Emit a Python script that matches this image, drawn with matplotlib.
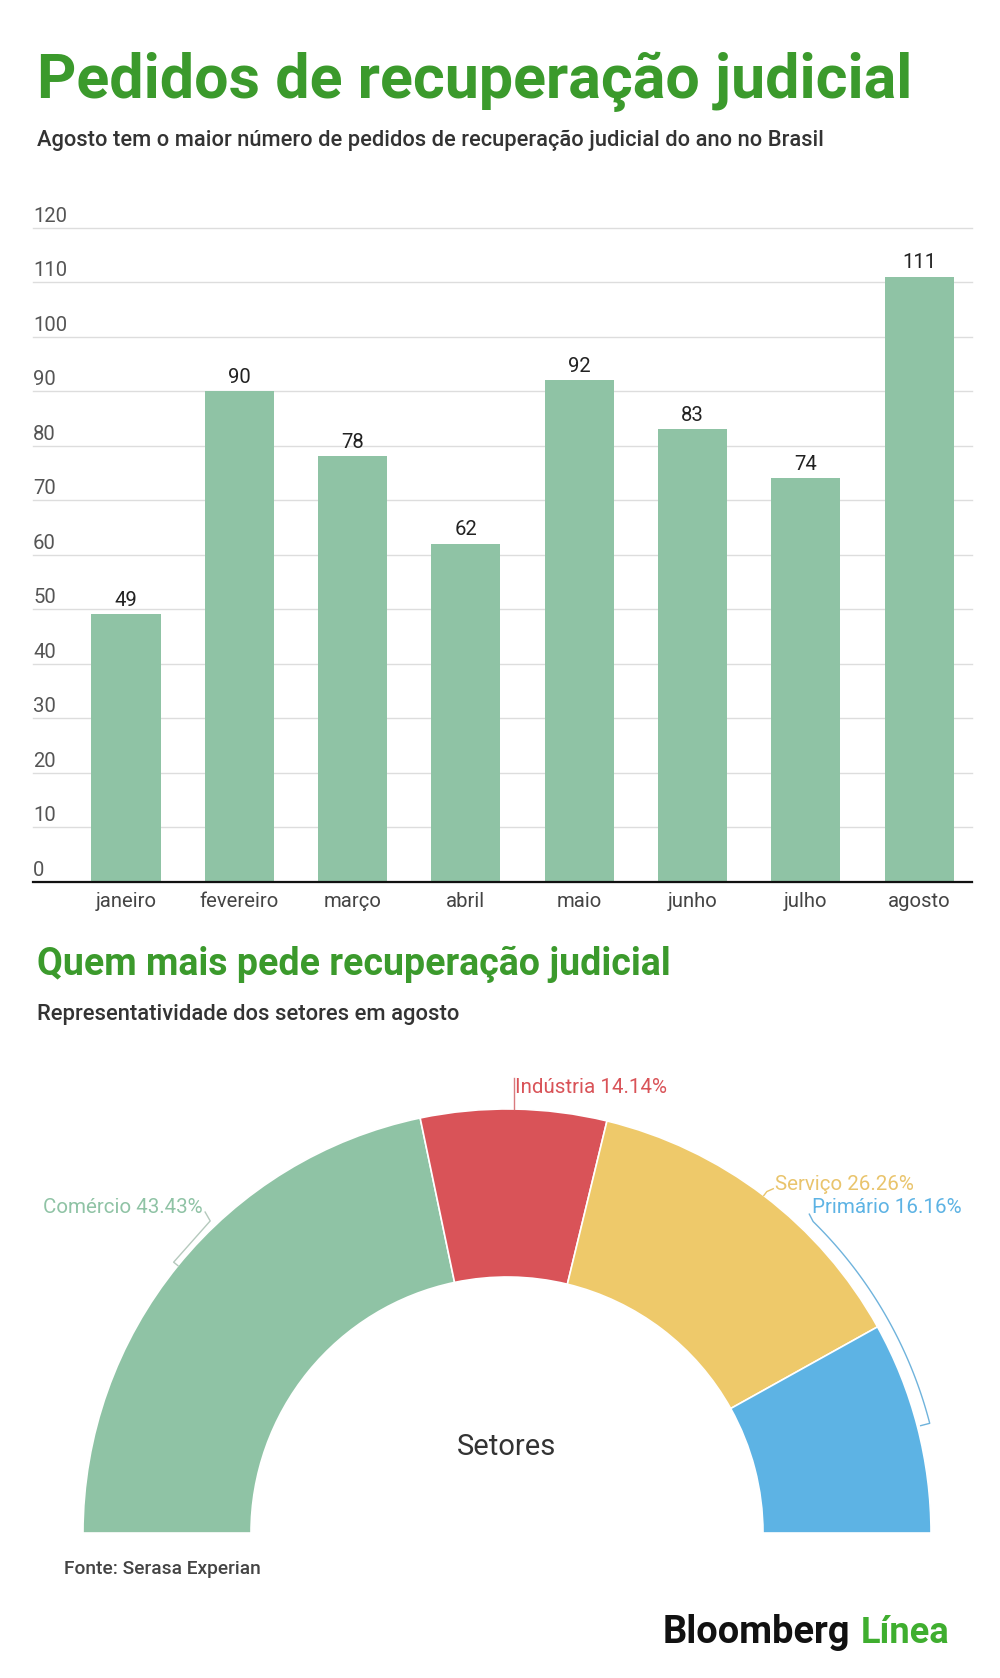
import numpy as np
import matplotlib
matplotlib.use("Agg")
import matplotlib.pyplot as plt

plt.rcParams['font.family'] = ['Roboto', 'DejaVu Sans']

# ---------------- data ----------------
months = ["janeiro", "fevereiro", "março", "abril", "maio", "junho", "julho", "agosto"]
pedidos = [49, 90, 78, 62, 92, 83, 74, 111]
y_ticks = [0, 10, 20, 30, 40, 50, 60, 70, 80, 90, 100, 110, 120]

setores = ["Comércio", "Indústria", "Serviço", "Primário"]
setores_pct = [43.43, 14.14, 26.26, 16.16]

title1 = "Pedidos de recuperação judicial"
subtitle1 = "Agosto tem o maior número de pedidos de recuperação judicial do ano no Brasil"
title2 = "Quem mais pede recuperação judicial"
subtitle2 = "Representatividade dos setores em agosto"
center_label = "Setores"
fonte = "Fonte: Serasa Experian"

# ---------------- style ----------------
W, H = 1000, 1678
GREEN_T = "#3b9a2c"
BAR = "#8fc3a5"
PIE_COLORS = ["#8fc3a5", "#d95358", "#eec96a", "#5db3e4"]
LABEL_COLORS = ["#8fc3a5", "#d95358", "#e9c46c", "#5db3e4"]
LEADER_COLORS = ["#b5c9bd", "#d97a7e", "#e9c46c", "#6fb3dc"]
TICK_FS = 14.6
PIE_FS = 14.8

fig = plt.figure(figsize=(W / 100, H / 100), dpi=100)
fig.patch.set_facecolor("white")
renderer = fig.canvas.get_renderer()


def fx(x):
    return x / W


def fy(y):
    return 1 - y / H


def ftext(x, y, s, target_w=None, **kw):
    t = fig.text(fx(x), fy(y), s, va="baseline", **kw)
    if target_w is not None:
        w = t.get_window_extent(renderer).width
        t.set_fontsize(t.get_fontsize() * target_w / w)
    return t


# titles
ftext(37, 98, title1, target_w=876, fontsize=48, weight="bold", color=GREEN_T)
ftext(37, 146, subtitle1, target_w=787, fontsize=14, weight="medium", color="#333333")
ftext(37, 975, title2, target_w=633, fontsize=28, weight="bold", color=GREEN_T)
ftext(37, 1020, subtitle2, target_w=422, fontsize=14, weight="medium", color="#333333")
ftext(64, 1574, fonte, target_w=196, fontsize=12, weight="medium", color="#444444")
ftext(663, 1643, "Bloomberg", target_w=188, fontsize=26, weight="bold", color="#111111")
ftext(861, 1643, "Línea", target_w=89, fontsize=26, weight="bold", color="#3fae2f")

# ---------------- bar chart ----------------
ax_l, ax_r, ax_t, ax_b = 33, 972, 227.5, 881.5
ax = fig.add_axes([fx(ax_l), fy(ax_b), (ax_r - ax_l) / W, (ax_b - ax_t) / H])
x = np.arange(len(months))
ax.bar(x, pedidos, width=0.61, color=BAR, zorder=2)
ax.set_xlim(-0.821, 7.467)
ax.set_ylim(0, 120)
ax.set_yticks(y_ticks)
ax.set_yticklabels([])
ax.tick_params(axis="both", length=0)
ax.set_xticks([])
ax.yaxis.grid(True, color="#dddddd", linewidth=1.0, zorder=0)
for gl in ax.get_ygridlines():
    gl.set_clip_on(False)
for s in ["top", "right", "left"]:
    ax.spines[s].set_visible(False)
ax.spines["bottom"].set_color("#111111")
ax.spines["bottom"].set_linewidth(1.6)
ax.spines["bottom"].set_zorder(3)

for v in y_ticks:
    ax.annotate(str(v), xy=(-0.821, v), xytext=(0, 4.3), textcoords="offset points",
                ha="left", va="baseline", fontsize=TICK_FS, color="#555555")
for i, (m, v) in enumerate(zip(months, pedidos)):
    ax.annotate(str(v), xy=(i, v), xytext=(0, 6.1), textcoords="offset points",
                ha="center", va="baseline", fontsize=TICK_FS, color="#222222")
    ax.annotate(m, xy=(i, 0), xytext=(0, -18.6), textcoords="offset points",
                ha="center", va="baseline", fontsize=TICK_FS, color="#444444")

# ---------------- semi donut ----------------
cx, cy, R = 507, 1533, 424
lim = 1.2
side = 2 * lim * R
pax = fig.add_axes([fx(cx - side / 2), fy(cy + side / 2), side / W, side / H])
vals = list(setores_pct) + [sum(setores_pct)]
cols = PIE_COLORS + ["none"]
wedges, _ = pax.pie(vals, colors=cols, startangle=180, counterclock=False,
                    radius=1.0, wedgeprops=dict(width=1 - 256 / 424, edgecolor="white", linewidth=1.2))
wedges[-1].set_edgecolor("none")
pax.set_xlim(-lim, lim)
pax.set_ylim(-lim, lim)
pax.set_aspect("equal")
pax.axis("off")

pax.text(0, 0.185, center_label, ha="center", va="baseline", fontsize=21, color="#333333")

# mid angles of each segment (degrees)
total = sum(vals)
ang = 180.0
mids = []
for p in setores_pct:
    span = 360.0 * p / total
    mids.append(np.deg2rad(ang - span / 2))
    ang -= span


def pol(r, t):
    return r * np.cos(t), r * np.sin(t)


def lab(i):
    return f"{setores[i]} {setores_pct[i]:.2f}%"


# Comércio
t = mids[0]
p0 = pol(1.0, t)
p1 = pol(1.013, t)
pts = [p0, p1, (-0.700, 0.736), (-0.712, 0.757)]
pax.plot([p[0] for p in pts], [p[1] for p in pts], color=LEADER_COLORS[0], lw=1.0, clip_on=False)
pax.text(-0.719, 0.755, lab(0), ha="right", va="baseline", fontsize=PIE_FS, color=LABEL_COLORS[0])

# Indústria
t = mids[1]
xa, ya = pol(1.0, t)
pax.plot([xa, xa], [ya, 1.072], color=LEADER_COLORS[1], lw=1.0, clip_on=False)
pax.text(xa + 0.004, 1.037, lab(1), ha="left", va="baseline", fontsize=PIE_FS, color=LABEL_COLORS[1])

# Serviço
t = mids[2]
pts = [pol(1.0, t), pol(1.012, t), (0.628, 0.812)]
pax.plot([p[0] for p in pts], [p[1] for p in pts], color=LEADER_COLORS[2], lw=1.0, clip_on=False)
pax.text(0.632, 0.809, lab(2), ha="left", va="baseline", fontsize=PIE_FS, color=LABEL_COLORS[2])

# Primário (curved bracket)
t = mids[3]
t_top = np.deg2rad(45.5)
arc_t = np.linspace(t, t_top, 60)
arc = [pol(1.03, a) for a in arc_t]
pts = [pol(1.008, t)] + arc + [(0.713, 0.752)]
pax.plot([p[0] for p in pts], [p[1] for p in pts], color=LEADER_COLORS[3], lw=1.0, clip_on=False)
pax.text(0.719, 0.755, lab(3), ha="left", va="baseline", fontsize=PIE_FS, color=LABEL_COLORS[3])

fig.savefig("out.png", dpi=100, facecolor="white")
